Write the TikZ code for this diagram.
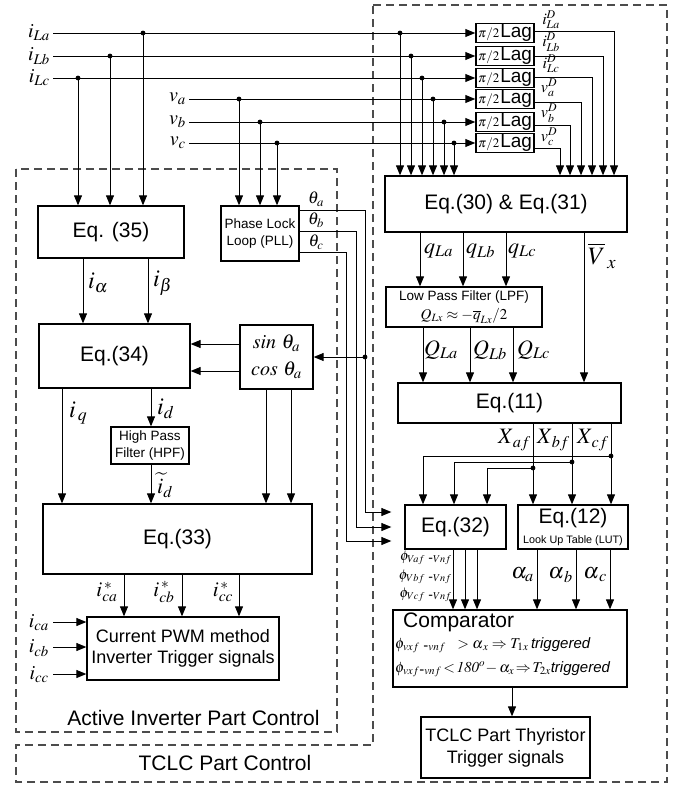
\documentclass[tikz,border=0pt]{standalone}
\usepackage{mathptmx}
\usepackage[no-math]{fontspec}
\setmainfont{Liberation Sans}
\usetikzlibrary{arrows.meta}
\newcommand{\fsz}[2]{\fontsize{#1}{#2}\selectfont}
\tikzset{
  box/.style={draw, line width=1.3pt, inner sep=0pt, align=center, font=\fsz{21}{24}},
  lab/.style={inner sep=0pt, font=\fsz{20}{22}},
  arr/.style={line width=1pt, -{Triangle[length=10pt,width=8pt]}},
  ln/.style={line width=1pt},
  region/.style={draw=black!70, dash pattern=on 8pt off 5pt, line width=1.2pt},
  lagbox/.style={box, minimum width=58pt, minimum height=19pt, line width=1.5pt}
}
\begin{document}
\begin{tikzpicture}[x=1pt,y=-1pt]
\useasboundingbox (0,0) rectangle (681,787);

% regions
\draw[region] (16,169) rectangle (337,732);
\draw[region] (373,5) -- (667,5) -- (667,782) -- (16,782) -- (16,745) -- (373,745) -- cycle;
\node[lab, font=\fsz{21}{24}] (actlab) at (193.5,718) {Active Inverter Part Control};
\node[lab, font=\fsz{21}{24}] (tclclab) at (225,763) {TCLC Part Control};

% boxes
\node[box, minimum width=146pt, minimum height=52pt] (eq35) at (111,232) {Eq. (35)};
\node[box, font=\fsz{13.5}{17}, minimum width=78pt, minimum height=55pt] (pll) at (260,233.5) {Phase Lock\\Loop (PLL)};
\node[box, minimum width=151pt, minimum height=64pt] (eq34) at (114.5,356) {Eq.(34)};
\node[box, font=\fsz{20}{27}, minimum width=73pt, minimum height=64pt] (sc) at (276.5,357) {$\mathit{sin}\ \theta_a$\\$\mathit{cos}\ \theta_a$};
\node[box, font=\fsz{13.5}{17}, minimum width=78pt, minimum height=37pt] (hpf) at (150,445.5) {High Pass\\Filter (HPF)};
\node[box, minimum width=269pt, minimum height=70pt] (eq33) at (177.5,539) {Eq.(33)};
\node[box, font=\fsz{18}{21}, minimum width=192pt, minimum height=63pt] (pwm) at (183,648.5) {Current PWM method\\Inverter Trigger signals};

\node[lagbox] (lag1) at (505,33) {\fsz{13}{13}$\pi/2$\hspace{1pt}\fsz{19}{19}Lag};
\node[lagbox] (lag2) at (505,56) {\fsz{13}{13}$\pi/2$\hspace{1pt}\fsz{19}{19}Lag};
\node[lagbox] (lag3) at (505,78) {\fsz{13}{13}$\pi/2$\hspace{1pt}\fsz{19}{19}Lag};
\node[lagbox] (lag4) at (505,99) {\fsz{13}{13}$\pi/2$\hspace{1pt}\fsz{19}{19}Lag};
\node[lagbox] (lag5) at (505,122) {\fsz{13}{13}$\pi/2$\hspace{1pt}\fsz{19}{19}Lag};
\node[lagbox] (lag6) at (505,143) {\fsz{13}{13}$\pi/2$\hspace{1pt}\fsz{19}{19}Lag};

\node[box, minimum width=242pt, minimum height=56pt] (eq30) at (506,204) {Eq.(30) \& Eq.(31)};
\node[box, font=\fsz{13.5}{19}, minimum width=156pt, minimum height=40pt] (lpf) at (464,307) {Low Pass Filter (LPF)\\{\fsz{15}{19}$Q_{Lx}\approx-\overline{q}_{Lx}/2$}};
\node[box, minimum width=223pt, minimum height=40pt] (eq11) at (509.5,403) {Eq.(11)};
\node[box, minimum width=101pt, minimum height=44pt] (eq32) at (455.5,527) {Eq.(32)};
\node[box, minimum width=110pt, minimum height=44pt] (eq12) at (573,527) {Eq.(12)\\[-4pt]{\fsz{10.8}{12}Look Up Table (LUT)}};
\node[box, minimum width=234pt, minimum height=77pt] (comp) at (510,648.5) {};
\node[box, font=\fsz{18}{22}, minimum width=169pt, minimum height=61pt] (tclc) at (505.5,747.5) {TCLC Part Thyristor\\Trigger signals};

% comparator text
\node[lab, anchor=west, font=\fsz{21}{24}] (ctitle) at (403,622) {Comparator};
\node[lab, anchor=west, font=\fsz{15}{17}] (crule1) at (395,645) {$\phi_{vxf\ \mbox{-}vnf}\ \ >\alpha_{\,x}\Rightarrow T_{1x}$\,\textit{triggered}};
\node[lab, anchor=west, font=\fsz{15}{17}] (crule2) at (395,669) {$\phi_{vxf\mbox{-}vnf}\!<\!\mathit{180}^o\!-\alpha_x\!\Rightarrow\! T_{2x}$\textit{triggered}};

% input labels
\node[lab, anchor=east] (iLa) at (50,33) {$i_{La}$};
\node[lab, anchor=east] (iLb) at (50,56) {$i_{Lb}$};
\node[lab, anchor=east] (iLc) at (50,78) {$i_{Lc}$};
\node[lab, anchor=east] (va) at (186,99) {$v_a$};
\node[lab, anchor=east] (vb) at (186,122) {$v_b$};
\node[lab, anchor=east] (vc) at (186,143) {$v_c$};

\draw[arr] ([xshift=3pt]iLa.east) -- (lag1.west);
\draw[arr] ([xshift=3pt]iLb.east) -- (lag2.west);
\draw[arr] ([xshift=3pt]iLc.east) -- (lag3.west);
\draw[arr] ([xshift=3pt]va.east) -- (lag4.west);
\draw[arr] ([xshift=3pt]vb.east) -- (lag5.west);
\draw[arr] ([xshift=3pt]vc.east) -- (lag6.west);

% taps
\coordinate (a1) at (143,33); \coordinate (a2) at (400,33);
\coordinate (b1) at (110,56); \coordinate (b2) at (411,56);
\coordinate (c1) at (78,78);  \coordinate (c2) at (422,78);
\coordinate (d1) at (239,99); \coordinate (d2) at (433,99);
\coordinate (e1) at (260,122); \coordinate (e2) at (444,122);
\coordinate (f1) at (277,143); \coordinate (f2) at (454,143);
\foreach \p in {a1,b1,c1,d1,e1,f1,a2,b2,c2,d2,e2,f2} \fill (\p) circle (2.4);
\foreach \p in {a1,b1,c1} \draw[arr] (\p) -- (\p |- eq35.north);
\foreach \p in {d1,e1,f1} \draw[arr] (\p) -- (\p |- pll.north);
\foreach \p in {a2,b2,c2,d2,e2,f2} \draw[arr] (\p) -- (\p |- eq30.north);

% lag outputs
\draw[arr] (lag1.east |- 0,31) -| (614,0 |- eq30.north);
\draw[arr] (lag2.east |- 0,56) -| (603,0 |- eq30.north);
\draw[arr] (lag3.east |- 0,77) -| (592,0 |- eq30.north);
\draw[arr] (lag4.east |- 0,102) -| (581,0 |- eq30.north);
\draw[arr] (lag5.east |- 0,125) -| (570,0 |- eq30.north);
\draw[arr] (lag6.east |- 0,148) -| (560,0 |- eq30.north);
\node[lab, font=\fsz{16}{18}] (lDa) at (551,20) {$i_{La}^{D}$};
\node[lab, font=\fsz{16}{18}] (lDb) at (551,42) {$i_{Lb}^{D}$};
\node[lab, font=\fsz{16}{18}] (lDc) at (551,64) {$i_{Lc}^{D}$};
\node[lab, font=\fsz{16}{18}] (vDa) at (549,88) {$v_{a}^{D}$};
\node[lab, font=\fsz{16}{18}] (vDb) at (549,113) {$v_{b}^{D}$};
\node[lab, font=\fsz{16}{18}] (vDc) at (549,137) {$v_{c}^{D}$};

% eq30 -> lpf, eq11
\foreach \x in {420,463,506} \draw[arr] (eq30.south -| \x,0) -- (lpf.north -| \x,0);
\node[lab, anchor=west, font=\fsz{22}{24}] (qa) at (424,251) {$q_{La}$};
\node[lab, anchor=west, font=\fsz{22}{24}] (qb) at (466,251) {$q_{Lb}$};
\node[lab, anchor=west, font=\fsz{22}{24}] (qc) at (508,251) {$q_{Lc}$};
\draw[arr] (eq30.south -| 584,0) -- (eq11.north -| 584,0);
\node[lab, anchor=west, font=\fsz{25}{27}] (vx) at (588,256) {$\overline{V}_{\,x}$};

% lpf -> eq11
\foreach \x in {423,470,513} \draw[arr] (lpf.south -| \x,0) -- (eq11.north -| \x,0);
\node[lab, anchor=west, font=\fsz{22}{24}] (Qa) at (424,350) {$Q_{La}$};
\node[lab, anchor=west, font=\fsz{22}{24}] (Qb) at (473,350) {$Q_{Lb}$};
\node[lab, anchor=west, font=\fsz{22}{24}] (Qc) at (517,350) {$Q_{Lc}$};

% eq11 -> eq12, eq32
\foreach \x in {533,572,611} \draw[arr] (eq11.south -| \x,0) -- (eq12.north -| \x,0);
\node[lab, anchor=east, font=\fsz{22}{24}] (Xa) at (531,440) {$X_{\,af}$};
\node[lab, anchor=east, font=\fsz{22}{24}] (Xb) at (570,440) {$X_{\,bf}$};
\node[lab, anchor=east, font=\fsz{22}{24}] (Xc) at (609,440) {$X_{\,cf}$};
\coordinate (xc) at (611,456); \coordinate (xb) at (572,462); \coordinate (xa) at (533,468);
\foreach \p in {xa,xb,xc} \fill (\p) circle (2.4);
\draw[arr] (xc) -| (eq32.north -| 423,0);
\draw[arr] (xb) -| (eq32.north -| 454,0);
\draw[arr] (xa) -| (eq32.north -| 487,0);

% eq32, eq12 -> comparator
\foreach \x in {453,465,477} \draw[arr] (eq32.south -| \x,0) -- (comp.north -| \x,0);
\node[lab, anchor=east, font=\fsz{14}{16}] (pa) at (452,558) {$\phi_{Vaf\ \mbox{-}Vnf}$};
\node[lab, anchor=east, font=\fsz{14}{16}] (pb) at (452,577) {$\phi_{Vbf\ \mbox{-}Vnf}$};
\node[lab, anchor=east, font=\fsz{14}{16}] (pc) at (452,595) {$\phi_{Vcf\ \mbox{-}Vnf}$};
\foreach \x in {537,576,610} \draw[arr] (eq12.south -| \x,0) -- (comp.north -| \x,0);
\node[lab, anchor=east, font=\fsz{22}{24}] (aa) at (534,575) {$\alpha_a$};
\node[lab, anchor=east, font=\fsz{22}{24}] (ab) at (573,575) {$\alpha_{\,b}$};
\node[lab, anchor=east, font=\fsz{22}{24}] (ac) at (607,575) {$\alpha_{\,c}$};
\draw[arr] (comp.south -| 512,0) -- (tclc.north -| 512,0);

% PLL thetas
\node[lab, font=\fsz{17}{19}] (tha) at (316,199) {$\theta_a$};
\node[lab, font=\fsz{17}{19}] (thb) at (316,220) {$\theta_b$};
\node[lab, font=\fsz{17}{19}] (thc) at (316,242) {$\theta_c$};
\draw[arr, shorten >=13pt] (pll.east |- 0,210) -| (365,512) -- (eq32.west |- 0,512);
\draw[arr, shorten >=13pt] (pll.east |- 0,231) -| (356,527) -- (eq32.west |- 0,527);
\draw[arr, shorten >=13pt] (pll.east |- 0,252) -| (346,541) -- (eq32.west |- 0,541);
\coordinate (thtap) at (365,357);
\fill (thtap) circle (2.4);
\draw[arr] (thtap) -- (sc.east |- thtap);

% left side
\draw[arr] (eq35.south -| 83,0) -- (eq34.north -| 83,0);
\draw[arr] (eq35.south -| 148,0) -- (eq34.north -| 148,0);
\node[lab, anchor=west, font=\fsz{24}{26}] (ial) at (88,283) {$i_\alpha$};
\node[lab, anchor=west, font=\fsz{24}{26}] (ibe) at (153,283) {$i_\beta$};
\draw[arr] (sc.west |- 0,344) -- (eq34.east |- 0,344);
\draw[arr] (sc.west |- 0,371) -- (eq34.east |- 0,371);
\draw[arr] (eq34.south -| 62,0) -- (eq33.north -| 62,0);
\node[lab, anchor=west, font=\fsz{24}{26}] (iq) at (69,413) {$i_{\,q}$};
\draw[arr] (eq34.south -| 151,0) -- (hpf.north -| 151,0);
\node[lab, anchor=west, font=\fsz{24}{26}] (id) at (157,409) {$i_d$};
\draw[arr] (hpf.south -| 151,0) -- (eq33.north -| 151,0);
\node[lab, anchor=west, font=\fsz{22}{24}] (itd) at (157,485) {$\widetilde{i}_d$};
\draw[arr] (sc.south -| 266,0) -- (eq33.north -| 266,0);
\draw[arr] (sc.south -| 291,0) -- (eq33.north -| 291,0);

\foreach \x in {124,182,239} \draw[arr] (eq33.south -| \x,0) -- (pwm.north -| \x,0);
\node[lab, font=\fsz{21}{24}] (ica1) at (107,592) {$i_{ca}^{\,*}$};
\node[lab, font=\fsz{21}{24}] (icb1) at (164,592) {$i_{cb}^{\,*}$};
\node[lab, font=\fsz{21}{24}] (icc1) at (223,592) {$i_{cc}^{\,*}$};

\node[lab, anchor=east] (ica) at (49,623) {$i_{ca}$};
\node[lab, anchor=east] (icb) at (49,648) {$i_{cb}$};
\node[lab, anchor=east] (icc) at (49,675) {$i_{cc}$};
\draw[arr] (53,622) -- (pwm.west |- 0,622);
\draw[arr] (53,647) -- (pwm.west |- 0,647);
\draw[arr] (53,674) -- (pwm.west |- 0,674);
\end{tikzpicture}
\end{document}
